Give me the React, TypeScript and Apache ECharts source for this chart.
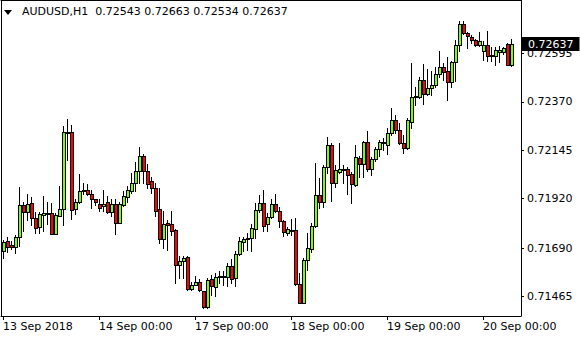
import React, { useEffect, useRef } from 'react';
import * as echarts from 'echarts';

const symbolName = 'AUDUSD,H1';
const days = ['13 Sep', '14 Sep', '17 Sep', '18 Sep', '19 Sep', '20 Sep'];
const firstDayLabel = '13 Sep 2018';
const yTickValues = [0.71465, 0.7169, 0.7192, 0.72145, 0.7237, 0.72595];
const yMin = 0.713755;
const yMax = 0.728425;

const open = [
  0.71677, 0.71722, 0.71705, 0.71697, 0.71741, 0.71889, 0.71857, 0.71899, 0.71829, 0.7179,
  0.71846, 0.71852, 0.71852, 0.71758, 0.71841, 0.71871, 0.72226, 0.7223, 0.71874, 0.71903,
  0.71954, 0.7196, 0.71941, 0.71917, 0.71894, 0.71885, 0.71903, 0.7186, 0.71894, 0.71809,
  0.71892, 0.71929, 0.71957, 0.71992, 0.7205, 0.72118, 0.72049, 0.72002, 0.71968, 0.71871,
  0.71734, 0.71806, 0.71804, 0.71775, 0.71612, 0.71631, 0.71648, 0.71499, 0.71521, 0.71532,
  0.7149, 0.71416, 0.71547, 0.71509, 0.71555, 0.71558, 0.71558, 0.71608, 0.7155, 0.71662,
  0.71721, 0.71732, 0.71736, 0.71781, 0.71868, 0.71899, 0.71803, 0.71837, 0.71894, 0.71864,
  0.71817, 0.71763, 0.71776, 0.71775, 0.71523, 0.71438, 0.71634, 0.71688, 0.71792, 0.71936,
  0.71906, 0.72067, 0.72169, 0.71991, 0.72046, 0.72056, 0.72057, 0.72033, 0.71984, 0.72109,
  0.72079, 0.72182, 0.72057, 0.72103, 0.72149, 0.7218, 0.72169, 0.72227, 0.72284, 0.72237,
  0.72177, 0.72154, 0.72274, 0.72391, 0.72394, 0.72471, 0.72406, 0.72432, 0.72447, 0.72498,
  0.72533, 0.72512, 0.72463, 0.72553, 0.72632, 0.72731, 0.72688, 0.72669, 0.72658, 0.72632,
  0.72607, 0.72632, 0.72586, 0.72584, 0.726, 0.726, 0.72636, 0.72543,
];
const high = [
  0.71728, 0.71744, 0.71725, 0.7175, 0.71973, 0.71905, 0.71942, 0.71928, 0.7186, 0.7186,
  0.71933, 0.71905, 0.71899, 0.71852, 0.71979, 0.72258, 0.7229, 0.72264, 0.71919, 0.72033,
  0.71991, 0.7199, 0.7196, 0.7192, 0.71919, 0.7196, 0.71934, 0.71919, 0.71919, 0.71903,
  0.71958, 0.71979, 0.72038, 0.7209, 0.72161, 0.72128, 0.72081, 0.72022, 0.71992, 0.71968,
  0.71863, 0.71821, 0.71863, 0.71778, 0.71652, 0.71653, 0.71654, 0.71535, 0.7156, 0.71547,
  0.71491, 0.7155, 0.71564, 0.71575, 0.71584, 0.71584, 0.7162, 0.71639, 0.71679, 0.71741,
  0.71744, 0.71759, 0.71803, 0.71899, 0.71937, 0.7196, 0.71852, 0.71917, 0.71942, 0.7188,
  0.71821, 0.71787, 0.71824, 0.71829, 0.71574, 0.71643, 0.71759, 0.71805, 0.72084, 0.72015,
  0.72077, 0.72208, 0.72177, 0.72077, 0.72177, 0.72077, 0.72069, 0.72045, 0.72169, 0.72118,
  0.72189, 0.72233, 0.72115, 0.72161, 0.72193, 0.72204, 0.72247, 0.72341, 0.72309, 0.7227,
  0.72216, 0.72293, 0.72552, 0.72437, 0.72485, 0.72545, 0.72521, 0.72514, 0.7253, 0.72607,
  0.72549, 0.72579, 0.72561, 0.72657, 0.72746, 0.72746, 0.72695, 0.7268, 0.72663, 0.72694,
  0.72654, 0.72699, 0.72626, 0.72623, 0.72629, 0.72626, 0.72642, 0.72663,
];
const low = [
  0.71643, 0.71674, 0.71685, 0.71669, 0.717, 0.71772, 0.71821, 0.71798, 0.71762, 0.71762,
  0.71768, 0.71803, 0.71756, 0.71756, 0.7184, 0.71798, 0.721, 0.71824, 0.71848, 0.71901,
  0.71942, 0.71937, 0.71878, 0.71891, 0.71864, 0.71864, 0.71855, 0.7184, 0.71758, 0.71807,
  0.71886, 0.71906, 0.71948, 0.71958, 0.71994, 0.71994, 0.71968, 0.71948, 0.7184, 0.71716,
  0.7169, 0.71682, 0.71751, 0.7153, 0.71553, 0.7155, 0.71496, 0.71496, 0.71519, 0.71493,
  0.71413, 0.71414, 0.71473, 0.7147, 0.71529, 0.71519, 0.71515, 0.71529, 0.71515, 0.71659,
  0.71679, 0.71682, 0.71679, 0.71736, 0.7186, 0.71772, 0.71772, 0.71829, 0.71858, 0.71787,
  0.71747, 0.71751, 0.71751, 0.71519, 0.71434, 0.71434, 0.7159, 0.71673, 0.7179, 0.71876,
  0.71883, 0.72041, 0.71908, 0.71976, 0.72041, 0.71992, 0.71941, 0.71899, 0.71979, 0.72019,
  0.72019, 0.72047, 0.72032, 0.72097, 0.72118, 0.72146, 0.72126, 0.72216, 0.72226, 0.72174,
  0.72131, 0.72151, 0.72247, 0.72355, 0.72386, 0.7236, 0.72402, 0.72402, 0.7244, 0.72486,
  0.72471, 0.72378, 0.7244, 0.72468, 0.72607, 0.72685, 0.72618, 0.72642, 0.7263, 0.7263,
  0.72564, 0.72561, 0.72561, 0.72541, 0.72553, 0.72592, 0.72541, 0.72534,
];
const close = [
  0.71718, 0.71697, 0.71697, 0.71741, 0.71891, 0.71857, 0.71897, 0.71829, 0.71783, 0.71848,
  0.71852, 0.71849, 0.71758, 0.71843, 0.71871, 0.7223, 0.7223, 0.71869, 0.71903, 0.71958,
  0.7196, 0.71941, 0.71917, 0.71903, 0.71875, 0.71894, 0.7186, 0.71894, 0.71809, 0.71894,
  0.71931, 0.71959, 0.71993, 0.72049, 0.72118, 0.72049, 0.7199, 0.71968, 0.71864, 0.71734,
  0.71801, 0.71799, 0.71772, 0.71612, 0.71632, 0.71647, 0.71501, 0.71519, 0.71532, 0.71494,
  0.71415, 0.71543, 0.71515, 0.71555, 0.71561, 0.71561, 0.71608, 0.71546, 0.71663, 0.71724,
  0.71733, 0.71738, 0.71783, 0.71868, 0.71899, 0.71793, 0.71837, 0.71894, 0.71864, 0.71815,
  0.71764, 0.71778, 0.71774, 0.71522, 0.71438, 0.71635, 0.71689, 0.71793, 0.71936, 0.71906,
  0.72066, 0.72169, 0.71991, 0.72053, 0.72056, 0.72051, 0.72029, 0.71987, 0.72112, 0.72079,
  0.72182, 0.72056, 0.72103, 0.72149, 0.72182, 0.72183, 0.72227, 0.72284, 0.72237, 0.72177,
  0.72154, 0.72284, 0.72391, 0.72396, 0.72471, 0.72404, 0.72434, 0.72447, 0.72498, 0.7253,
  0.7251, 0.72463, 0.72553, 0.72632, 0.72731, 0.72688, 0.72675, 0.72658, 0.72632, 0.72651,
  0.72632, 0.72584, 0.72584, 0.72609, 0.7261, 0.72618, 0.72542, 0.72637,
];

const FONT = 'DejaVu Sans';
const BULL = '#7CFC00';
const BEAR = '#FF0000';

function buildCategories(): string[] {
  const cats: string[] = [];
  for (const d of days) {
    for (let h = 0; h < 24; h++) cats.push(`${d} ${String(h).padStart(2, '0')}:00`);
  }
  return cats.slice(0, open.length + 2);
}

export default function App() {
  const ref = useRef<HTMLDivElement>(null);
  useEffect(() => {
    if (!ref.current) return;
    const chart = echarts.init(ref.current, undefined, { renderer: 'svg' });
    const categories = buildCategories();
    const data = open.map((o, i) => [i, o, close[i], low[i], high[i]]);
    const last = open.length - 1;
    const header = `${symbolName}  ${open[last].toFixed(5)} ${high[last].toFixed(5)} ${low[last].toFixed(5)} ${close[last].toFixed(5)}`;
    const showIdx = (index: number) => index % 24 === 0;
    const triangle = {
      type: 'polygon',
      shape: { points: [[4, 10], [12, 10], [8, 15]] },
      style: { fill: '#000' },
    };
    const renderCandle = (_params: any, api: any) => {
      const idx = api.value(0);
      const o = api.value(1);
      const c = api.value(2);
      const l = api.value(3);
      const h = api.value(4);
      const xc = api.coord([idx, o])[0];
      const yO = api.coord([idx, o])[1];
      const yC = api.coord([idx, c])[1];
      const yL = api.coord([idx, l])[1];
      const yH = api.coord([idx, h])[1];
      const px = Math.floor(xc);
      const wickTop = Math.round(yH);
      const wickBot = Math.round(yL) + 1;
      const bTop = Math.round(Math.min(yO, yC));
      const bBot = Math.round(Math.max(yO, yC)) + 1;
      const children: any[] = [
        { type: 'rect', shape: { x: px, y: wickTop, width: 1, height: Math.max(wickBot - wickTop, 1) }, style: { fill: '#000' } },
        { type: 'rect', shape: { x: px - 1, y: bTop, width: 4, height: Math.max(bBot - bTop, 2) }, style: { fill: '#000' } },
      ];
      if (bBot - bTop > 2) {
        children.push({
          type: 'rect',
          shape: { x: px, y: bTop + 1, width: 2, height: bBot - bTop - 2 },
          style: { fill: c >= o ? BULL : BEAR },
        });
      }
      return { type: 'group', children };
    };
    const hiddenAxisCommon = {
      axisTick: { show: false },
      axisLabel: { show: false },
      splitLine: { show: false },
      axisLine: { show: true, lineStyle: { color: '#000', width: 1 } },
    };
    chart.setOption({
      animation: false,
      backgroundColor: '#ffffff',
      textStyle: { fontFamily: FONT },
      title: {
        text: header,
        left: 22,
        top: 6,
        padding: 0,
        textStyle: { fontSize: 11, fontWeight: 'normal', color: '#000', fontFamily: FONT },
      },
      graphic: [triangle],
      grid: {
        left: 1,
        right: 59,
        top: 0,
        bottom: 24,
        show: false,
      },
      xAxis: [
        {
          type: 'category',
          data: categories,
          boundaryGap: true,
          axisLine: { show: true, lineStyle: { color: '#000', width: 1 } },
          axisTick: {
            show: true,
            alignWithLabel: true,
            interval: (index: number) => showIdx(index),
            length: 4,
            lineStyle: { color: '#000' },
          },
          axisLabel: {
            interval: (index: number) => showIdx(index),
            formatter: (value: string, index: number) => (index === 0 ? firstDayLabel : value),
            color: '#000',
            fontSize: 11,
            fontFamily: FONT,
            align: 'left',
            margin: 5,
          },
          splitLine: { show: false },
        },
        { type: 'category', data: categories, position: 'top', ...hiddenAxisCommon },
      ],
      yAxis: [
        {
          type: 'value',
          position: 'right',
          min: yMin,
          max: yMax,
          scale: true,
          axisLine: { show: true, lineStyle: { color: '#000', width: 1 } },
          axisTick: {
            show: true,
            length: 3,
            customValues: yTickValues,
            lineStyle: { color: '#000' },
          },
          axisLabel: {
            customValues: yTickValues,
            formatter: (v: number) => v.toFixed(5),
            color: '#000',
            fontSize: 11,
            fontFamily: FONT,
            margin: 6,
          },
          splitLine: { show: false },
        },
        { type: 'value', position: 'left', min: yMin, max: yMax, scale: true, ...hiddenAxisCommon },
      ],
      series: [
        {
          type: 'custom',
          name: symbolName,
          xAxisIndex: 0,
          yAxisIndex: 0,
          data,
          encode: { x: 0, y: [1, 2, 3, 4] },
          renderItem: renderCandle,
          clip: false,
          silent: true,
        },
      ],
    });
    const yPix = chart.convertToPixel({ yAxisIndex: 0 }, close[last]) as number;
    const xPix = chart.convertToPixel({ xAxisIndex: 0 }, categories.length - 1) as number;
    chart.setOption({
      graphic: [
        triangle,
        {
          type: 'text',
          x: Math.round(xPix) + 3,
          y: Math.round(yPix),
          z: 100,
          style: {
            text: close[last].toFixed(5),
            fill: '#fff',
            backgroundColor: '#000',
            padding: [2, 6, 1, 6],
            fontSize: 11,
            fontFamily: FONT,
            verticalAlign: 'middle',
            align: 'left',
          },
        },
      ],
    });
    return () => chart.dispose();
  }, []);
  return (
    <div
      ref={ref}
      style={{ position: 'fixed', left: 0, top: 0, width: 580, height: 340, background: '#fff' }}
    />
  );
}
